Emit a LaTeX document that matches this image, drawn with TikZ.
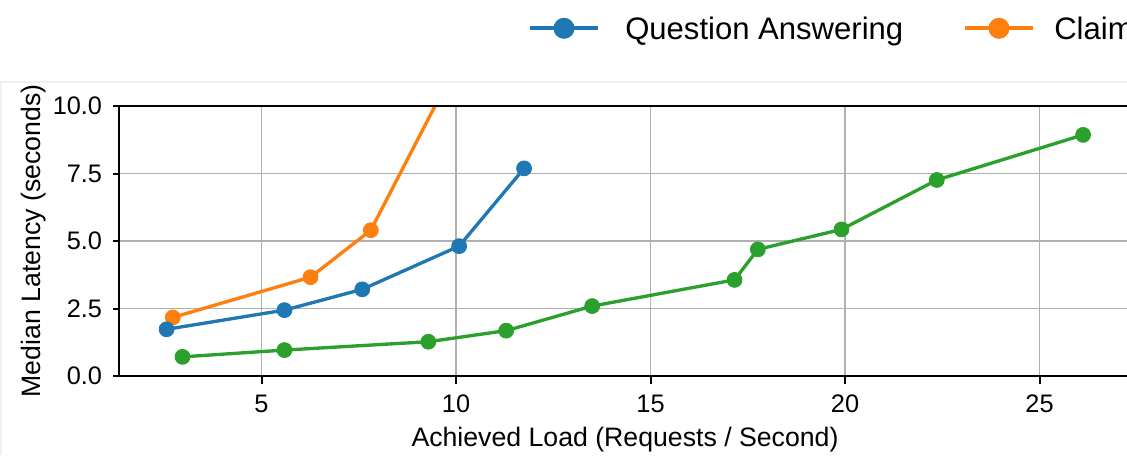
\documentclass[tikz,border=0pt]{standalone}
\usepackage{fontspec}
\setmainfont{Liberation Sans}
\definecolor{qa}{HTML}{1F77B4}
\definecolor{cv}{HTML}{FF7F0E}
\definecolor{gr}{HTML}{2CA02C}
\definecolor{gridc}{HTML}{B0B0B0}
\tikzset{
  gridline/.style={draw=gridc, line width=1.4pt},
  spine/.style={draw=black, line width=1.7pt},
  tickmark/.style={draw=black, line width=1.5pt},
  series/.style={line width=2.5pt, line join=round, mark=*, mark size=5.6pt,
                 mark options={line width=0.6pt}},
  ticklabel/.style={inner sep=0pt, font=\fontsize{19}{22}\selectfont},
  axislabel/.style={inner sep=0pt, font=\fontsize{20}{24}\selectfont},
  legendtext/.style={inner sep=0pt, anchor=base west, font=\fontsize{23.3}{27}\selectfont},
  legendline/.style={line width=3.2pt},
}
\begin{document}
\begin{tikzpicture}[x=0.75pt, y=-0.75pt]
\useasboundingbox (0,0) rectangle (1127,455);
\clip (0,0) rectangle (1127,455);
% faint outer frame
\draw[gray!12, line width=0.8pt] (0,82) -- (1127,82);
\draw[gray!12, line width=0.8pt] (1,82) -- (1,455);

% data frame: x unit = 38.9px, y unit = 27px, origin at (67,376)
\begin{scope}[x=29.175pt, y=20.25pt, shift={(50.25pt,-282pt)}]
  \coordinate (ll) at (1.337,0);
  \coordinate (ur) at (27.25,10);
  % grid
  \foreach \gx in {5,10,15,20,25}
    \draw[gridline] (\gx,0) -- (\gx,10);
  \foreach \gy in {2.5,5,7.5}
    \draw[gridline] (1.337,\gy) -- (27.25,\gy);

  % curves
  \begin{scope}
    \clip (ll) rectangle (ur);
    \draw[series, color=cv] plot coordinates {(2.72,2.17) (6.26,3.66) (7.81,5.40) (10.5,12.9)};
    \draw[series, color=qa] plot coordinates {(2.56,1.73) (5.59,2.44) (7.59,3.21) (10.08,4.81) (11.75,7.69)};
    \draw[series, color=gr] plot coordinates {(2.97,0.71) (5.59,0.96) (9.29,1.27) (11.29,1.68)
      (13.50,2.59) (17.16,3.56) (17.76,4.69) (19.91,5.43) (22.36,7.26) (26.12,8.93)};
  \end{scope}

  % spines
  \draw[spine] (1.337,10) -- (1.337,0) -- (27.25,0);
  \draw[spine] (1.337,10) -- (27.25,10);

  % x ticks
  \foreach \gx in {5,10,15,20,25} {
    \draw[tickmark] (\gx,0) -- ++(0,-6pt);
    \node[ticklabel, anchor=base] (xt\gx) at ([yshift=-27pt]\gx,0) {\gx};
  }
  % y ticks
  \foreach \gy/\lab [count=\i] in {0/0.0,2.5/2.5,5/5.0,7.5/7.5,10/10.0} {
    \draw[tickmark] (1.337,\gy) -- ++(-4.5pt,0);
    \node[ticklabel, anchor=east] (yt\i) at ([xshift=-12.5pt]1.337,\gy) {\lab};
  }
\end{scope}

% axis titles
\node[axislabel, anchor=base] (xlab) at (625,446) {Achieved Load (Requests / Second)};
\node[axislabel, anchor=base, rotate=90] (ylab) at (40,241) {Median Latency (seconds)};

% legend
\coordinate (qa0) at (530,28.3);
\coordinate (qa1) at (598,28.3);
\draw[legendline, qa] (qa0) -- (qa1);
\fill[qa] (564,28.3) circle (7.9pt);
\node[legendtext] (qatxt) at (625,39) {Question Answering};
\coordinate (cv0) at (965,28.3);
\coordinate (cv1) at (1033,28.3);
\draw[legendline, cv] (cv0) -- (cv1);
\fill[cv] (999,28.3) circle (7.9pt);
\node[legendtext] (cvtxt) at (1054,39) {Claim};
\end{tikzpicture}
\end{document}
